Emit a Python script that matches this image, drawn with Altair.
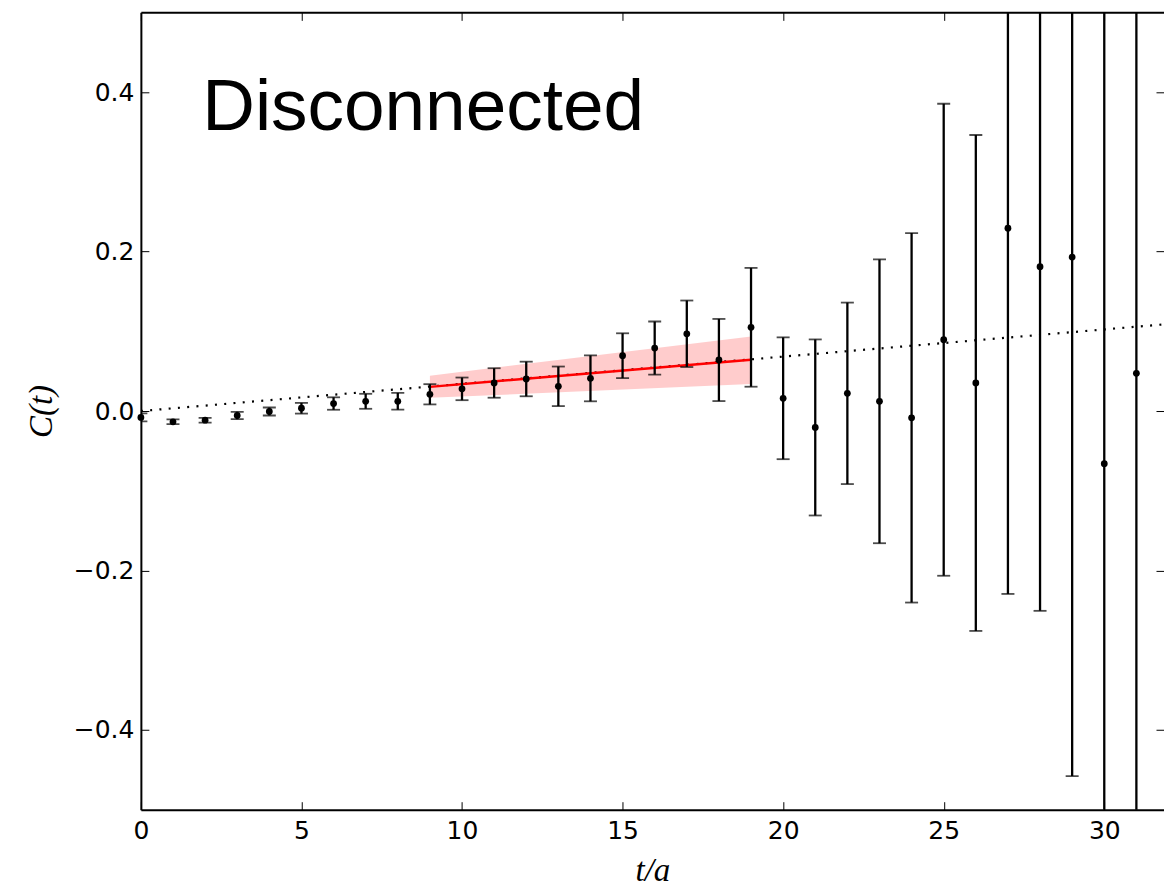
import altair as alt
import pandas as pd

# ---- data ----
t_vals = list(range(0, 32))
c_vals = [-0.008, -0.0135, -0.0115, -0.0056, -0.0006, 0.0035, 0.0094, 0.0122,
          0.0122, 0.021, 0.0278, 0.0352, 0.0402, 0.031, 0.041, 0.0694,
          0.079, 0.0969, 0.064, 0.105, 0.016, -0.0206, 0.0222, 0.0122,
          -0.0085, 0.0894, 0.0352, 0.2294, 0.181, 0.1931, -0.066, 0.0473]
c_errs = [0.005, 0.003, 0.003, 0.0046, 0.005, 0.0067, 0.0078, 0.0094,
          0.0105, 0.0127, 0.0142, 0.0185, 0.0217, 0.0248, 0.0288, 0.0281,
          0.0333, 0.0417, 0.0515, 0.0745, 0.0764, 0.1104, 0.1138, 0.178,
          0.2317, 0.296, 0.311, 0.4588, 0.4316, 0.651, 0.75, 0.8]

dot_t = [0.0, 31.86]
dot_c = [0.0, 0.1087]

fit_t = [9, 19]
fit_c = [0.0303, 0.0644]
band_lo = [0.0165, 0.034]
band_hi = [0.0444, 0.0935]

title_text = "Disconnected"
title_t = [1.91]
title_c = [0.352]

X_DOMAIN = [0, 31.86]
Y_DOMAIN = [-0.5, 0.5]

pts = pd.DataFrame({"t": t_vals, "c": c_vals, "err": c_errs})
pts["lo"] = pts["c"] - pts["err"]
pts["hi"] = pts["c"] + pts["err"]
dots = pd.DataFrame({"t": dot_t, "c": dot_c})
fit = pd.DataFrame({"t": fit_t, "c": fit_c, "lo": band_lo, "hi": band_hi})
lab = pd.DataFrame({"t": title_t, "c": title_c, "txt": [title_text]})

xs = alt.Scale(domain=X_DOMAIN, nice=False, zero=False)
ys = alt.Scale(domain=Y_DOMAIN, nice=False, zero=False)

TICK = 8
x_main_axis = alt.Axis(orient="bottom", offset=-TICK, tickSize=TICK, domain=False,
                       values=[0, 5, 10, 15, 20, 25, 30], format="d",
                       labelFont="DejaVu Sans", labelFontSize=25, labelColor="black",
                       labelPadding=9, labelFlush=False, labelOverlap=False,
                       tickColor="black", tickWidth=1, grid=False,
                       title="t/a", titleFont="Liberation Serif", titleFontStyle="italic",
                       titleFontWeight="normal", titleFontSize=33, titleColor="black",
                       titlePadding=11)
y_main_axis = alt.Axis(orient="left", offset=-TICK, tickSize=TICK, domain=False,
                       values=[-0.4, -0.2, 0.0, 0.2, 0.4], format=".1f",
                       labelFont="DejaVu Sans", labelFontSize=25, labelColor="black",
                       labelPadding=7, labelFlush=False, labelOverlap=False,
                       tickColor="black", tickWidth=1, grid=False,
                       title="C(t)", titleFont="Liberation Serif", titleFontStyle="italic",
                       titleFontWeight="normal", titleFontSize=33, titleColor="black",
                       titlePadding=15)

X = alt.X("t:Q", scale=xs, axis=x_main_axis)
Y = alt.Y("c:Q", scale=ys, axis=y_main_axis)

band = alt.Chart(fit).mark_area(color="red", opacity=0.2).encode(
    x=X, y=alt.Y("lo:Q", scale=ys, axis=y_main_axis), y2="hi:Q")
dotted = alt.Chart(dots).mark_line(color="black", strokeWidth=2.2,
                                   strokeDash=[2, 7.3], clip=True).encode(x=X, y=Y)
fitline = alt.Chart(fit).mark_line(color="red", strokeWidth=2.5).encode(x=X, y=Y)
bars = alt.Chart(pts).mark_rule(color="black", strokeWidth=2.3, clip=True).encode(
    x=X, y=alt.Y("lo:Q", scale=ys, axis=y_main_axis), y2="hi:Q")
cap_lo = alt.Chart(pts).mark_tick(color="black", orient="horizontal", size=13,
                                  thickness=1.8, clip=True).encode(
    x=X, y=alt.Y("lo:Q", scale=ys, axis=y_main_axis))
cap_hi = alt.Chart(pts).mark_tick(color="black", orient="horizontal", size=13,
                                  thickness=1.8, clip=True).encode(
    x=X, y=alt.Y("hi:Q", scale=ys, axis=y_main_axis))
points = alt.Chart(pts).mark_circle(color="black", size=46, opacity=1).encode(x=X, y=Y)
text = alt.Chart(lab).mark_text(align="left", baseline="alphabetic",
                                font="Liberation Sans", fontSize=73,
                                color="black").encode(x=X, y=Y, text="txt:N")

data_layer = alt.layer(band, dotted, fitline, bars, cap_lo, cap_hi, points, text)

# inward ticks on top and right
tick_x_top = alt.Axis(orient="top", offset=-TICK, tickSize=TICK, domain=False, labels=False,
                      values=[0, 5, 10, 15, 20, 25, 30], tickColor="black", tickWidth=1,
                      grid=False, title=None)
tick_y_right = alt.Axis(orient="right", offset=-TICK, tickSize=TICK, domain=False, labels=False,
                        values=[-0.4, -0.2, 0.0, 0.2, 0.4], tickColor="black", tickWidth=1,
                        grid=False, title=None)
ticks_layer = alt.Chart(dots).mark_point(opacity=0).encode(
    x=alt.X("t:Q", scale=xs, axis=tick_x_top), y=alt.Y("c:Q", scale=ys, axis=tick_y_right))

# spines
spine_b = alt.Axis(orient="bottom", domain=True, domainColor="black", domainWidth=2,
                   ticks=False, labels=False, grid=False, title=None)
spine_l = alt.Axis(orient="left", domain=True, domainColor="black", domainWidth=2,
                   ticks=False, labels=False, grid=False, title=None)
spine_t = alt.Axis(orient="top", domain=True, domainColor="black", domainWidth=2,
                   ticks=False, labels=False, grid=False, title=None)
spine_layer1 = alt.Chart(dots).mark_point(opacity=0).encode(
    x=alt.X("t:Q", scale=xs, axis=spine_b), y=alt.Y("c:Q", scale=ys, axis=spine_l))
spine_layer2 = alt.Chart(dots).mark_point(opacity=0).encode(
    x=alt.X("t:Q", scale=xs, axis=spine_t), y=alt.Y("c:Q", scale=ys, axis=None))

chart = alt.layer(data_layer, ticks_layer, spine_layer1, spine_layer2).resolve_axis(
    x="independent", y="independent"
).properties(
    width=1024, height=798,
    autosize=alt.AutoSizeParams(type="none"),
    padding={"left": 141, "top": 12, "right": 0, "bottom": 82},
    background="white",
).configure_view(stroke=None)

chart.save("out.html", embed_options={"renderer": "svg", "actions": False})
